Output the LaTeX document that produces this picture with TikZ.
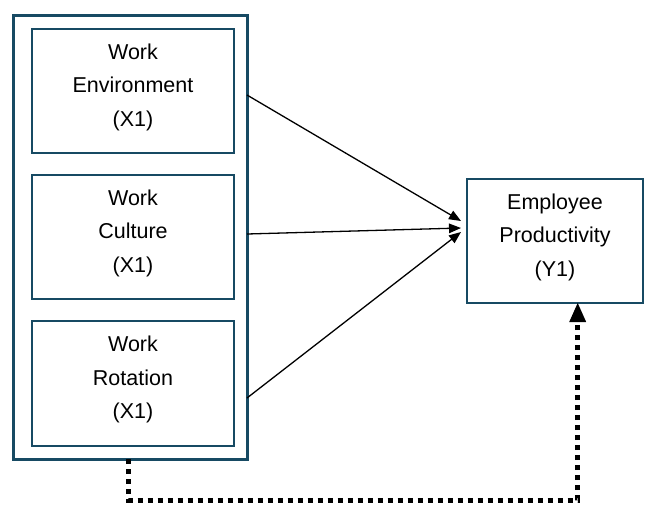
\documentclass[tikz,border=0pt]{standalone}
\usepackage{fontspec}
\setmainfont{Liberation Sans}
\usetikzlibrary{arrows.meta}
\definecolor{frame}{HTML}{174A63}
\begin{document}
\begin{tikzpicture}[x=1pt,y=-1pt,
  groupbox/.style={draw=frame,line width=3pt,inner sep=0pt,outer sep=0pt,
    minimum width=234pt,minimum height=444pt},
  varbox/.style={draw=frame,line width=2pt,inner sep=0pt,outer sep=0pt,
    minimum width=#1},
  txt/.style={align=center,inner sep=0pt,font=\fontsize{21.5}{33.5}\selectfont},
  link/.style={line width=1.3pt,-{Triangle[length=12pt,width=9.5pt]}},
  feedback/.style={line width=5pt,dash pattern=on 5pt off 5pt,
    -{Triangle[length=19pt,width=17pt,line width=0pt]}}]
\useasboundingbox (0,0) rectangle (656,504);

% group of independent variables
\node[groupbox] (grp) at (130,237) {};
\node[varbox=202pt,minimum height=124pt] (X1) at (133,91) {};
\node[varbox=202pt,minimum height=124pt] (X2) at (133,237) {};
\node[varbox=202pt,minimum height=125pt] (X3) at (133,383.5) {};
\node[txt] (t1) at ([yshift=4pt]X1.center) {Work\\Environment\\(X1)};
\node[txt] (t2) at ([yshift=4pt]X2.center) {Work\\Culture\\(X1)};
\node[txt] (t3) at ([yshift=4pt]X3.center) {Work\\Rotation\\(X1)};

% dependent variable
\node[varbox=176pt,minimum height=124pt] (Y) at (555,241) {};
\node[txt] (ty) at ([yshift=4pt]Y.center) {Employee\\Productivity\\(Y1)};

% direct effects
\draw[link] ([yshift=-4pt]X1.center -| grp.east) -- ([xshift=-6pt,yshift=20pt]Y.west);
\draw[link] ([yshift=3pt]X2.center -| grp.east) -- ([xshift=-6pt,yshift=13pt]Y.west);
\draw[link] ([yshift=-14.5pt]X3.center -| grp.east) -- ([xshift=-6pt,yshift=9pt]Y.west);

% joint effect
\draw[feedback] ([xshift=-1.3pt]grp.south) -- ++(0,41) -| ([xshift=22.7pt]Y.south);
\end{tikzpicture}
\end{document}
